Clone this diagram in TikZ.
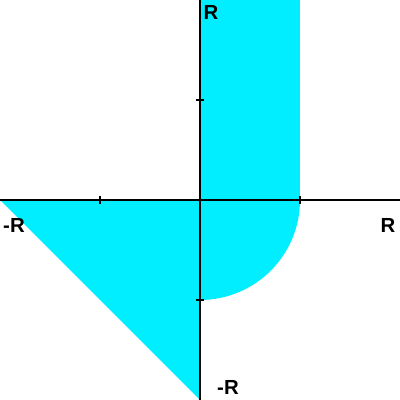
\documentclass[tikz,border=0pt]{standalone}
\usepackage{fontspec}
\setmainfont{Liberation Sans}
\definecolor{regioncyan}{RGB}{0,238,255}
\tikzset{
  axisline/.style={line width=0.05cm, black},
  tickmark/.style={line width=0.05cm, black},
  lbl/.style={font=\fontsize{14.5}{17}\selectfont\bfseries, inner sep=0pt}
}
\begin{document}
\begin{tikzpicture}[x=2.5cm,y=2.5cm]
\useasboundingbox (-2,-2) rectangle (2,2);
% region
\fill[regioncyan] (0,0) rectangle (1,2);
\fill[regioncyan] (0,0) -- (1,0) arc[start angle=0,end angle=-90,radius=1] -- cycle;
\fill[regioncyan] (-2,0) -- (0,0) -- (0,-2) -- cycle;
% axes
\coordinate (xl) at (-2,0);
\coordinate (xr) at (2,0);
\coordinate (yb) at (0,-2);
\coordinate (yt) at (0,2);
\draw[axisline] (xl) -- (xr);
\draw[axisline] (yb) -- (yt);
% ticks
\foreach \t in {-1,1} {
  \draw[tickmark] (\t,-0.04) -- (\t,0.04);
  \draw[tickmark] (-0.04,\t) -- (0.04,\t);
}
% labels
\node[lbl] (rt) at (0.11,1.88) {R};
\node[lbl] (rr) at (1.88,-0.25) {R};
\node[lbl] (rl) at (-1.86,-0.25) {-R};
\node[lbl] (rb) at (0.28,-1.87) {-R};
\end{tikzpicture}
\end{document}
